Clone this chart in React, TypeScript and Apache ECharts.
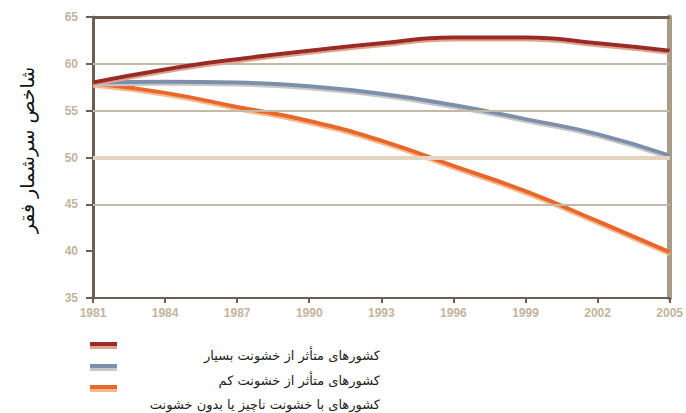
import React, { useEffect, useRef } from "react";
import * as echarts from "echarts";

const years = ["1981", "1984", "1987", "1990", "1993", "1996", "1999", "2002", "2005"];
const seriesNames = [
  "کشورهای متأثر از خشونت بسیار",
  "کشورهای متأثر از خشونت کم",
  "کشورهای با خشونت ناچیز یا بدون خشونت",
];
const highViolence = [58.0, 59.4, 60.5, 61.4, 62.2, 62.8, 62.8, 62.2, 61.4];
const lowViolence = [58.0, 58.1, 58.0, 57.6, 56.8, 55.6, 54.1, 52.5, 50.2];
const noViolence = [57.9, 56.9, 55.4, 53.9, 51.8, 49.1, 46.4, 43.2, 39.9];
const gridValues = [60, 55, 50, 45];
const yTitle = "شاخص سرشمار فقر";

const darkColors = ["#9a2c26", "#7d90ab", "#e8682b"];
const lightColors = ["#dfa48d", "#c9c6c8", "#f6b98d"];

export default function App() {
  const ref = useRef<HTMLDivElement>(null);
  useEffect(() => {
    if (!ref.current) return;
    const chart = echarts.init(ref.current, null, { renderer: "svg" });
    const data = [highViolence, lowViolence, noViolence];
    const labelStyle = {
      color: "#c3b39d",
      fontFamily: "Liberation Sans",
      fontWeight: "bold" as const,
      fontSize: 12,
    };
    const series: any[] = data.map((d, i) => ({
      type: "line",
      name: seriesNames[i],
      data: d,
      smooth: true,
      symbol: "none",
      z: 5 - i,
      lineStyle: {
        color: darkColors[i],
        width: 4,
        shadowColor: lightColors[i],
        shadowOffsetY: 2,
        shadowBlur: 0,
      },
    }));
    series.push({
      type: "line",
      data: [],
      z: 1,
      markLine: {
        silent: true,
        symbol: "none",
        label: { show: false },
        data: gridValues
          .map((v) => ({
            yAxis: v,
            lineStyle: {
              color: v === 50 ? "#e3d3bf" : "#c6b8a7",
              width: v === 50 ? 4 : 2,
              type: "solid",
            },
          }))
          .concat([{ yAxis: 65, lineStyle: { color: "#6b5f53", width: 3, type: "solid" } } as any]),
      },
    });
    const graphics: any[] = [];
    const swatchY = [342, 364, 385];
    const textY = [355, 380, 404];
    seriesNames.forEach((name, i) => {
      graphics.push({
        type: "rect",
        shape: { x: 90, y: swatchY[i], width: 27, height: 4 },
        style: { fill: darkColors[i] },
      });
      graphics.push({
        type: "rect",
        shape: { x: 90, y: swatchY[i] + 4, width: 27, height: 3 },
        style: { fill: lightColors[i] },
      });
      graphics.push({
        type: "text",
        x: 380,
        y: textY[i],
        style: {
          text: name,
          align: "right",
          verticalAlign: "middle",
          fontFamily: "DejaVu Sans",
          fontSize: 13,
          fill: "#222",
        },
      });
    });
    graphics.push({
      type: "text",
      x: 27,
      y: 150,
      rotation: Math.PI / 2,
      style: {
        text: yTitle,
        align: "center",
        verticalAlign: "middle",
        fontFamily: "DejaVu Sans",
        fontSize: 19,
        fill: "#111",
      },
    });
    chart.setOption({
      animation: false,
      grid: { left: 93, right: 14, top: 17, bottom: 115, containLabel: false },
      xAxis: {
        type: "category",
        data: years,
        boundaryGap: false,
        axisLine: { lineStyle: { color: "#6b5f53", width: 2 } },
        axisTick: { show: true, length: 5, lineStyle: { color: "#6b5f53", width: 2 } },
        axisLabel: { ...labelStyle, margin: 9 },
        splitLine: { show: false },
      },
      yAxis: [
        {
          type: "value",
          min: 35,
          max: 65,
          interval: 5,
          axisLine: { show: true, lineStyle: { color: "#6b5f53", width: 3 } },
          axisTick: { show: true, length: 7, lineStyle: { color: "#6b5f53", width: 2 } },
          axisLabel: { ...labelStyle, margin: 15 },
          splitLine: { show: false },
        },
        {
          type: "value",
          min: 35,
          max: 65,
          interval: 5,
          position: "right",
          axisLine: { show: true, lineStyle: { color: "#a99b89", width: 5 } },
          axisTick: { show: false },
          axisLabel: { show: false },
          splitLine: { show: false },
        },
      ],
      series,
      graphic: graphics,
    });
    return () => chart.dispose();
  }, []);
  return (
    <div
      ref={ref}
      style={{ position: "fixed", left: 0, top: 0, width: 686, height: 413, background: "#fff" }}
    />
  );
}
